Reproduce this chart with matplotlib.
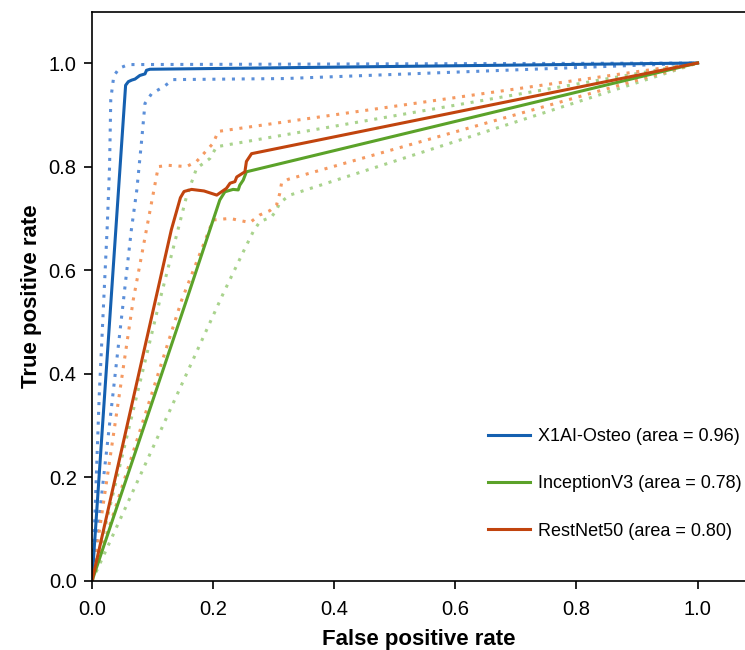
import matplotlib
matplotlib.use("Agg")
import matplotlib.pyplot as plt

plt.rcParams['font.family'] = ['Liberation Sans', 'DejaVu Sans']

# ROC curves (fpr, tpr), with upper / lower bands
x1_fpr = [0, 0.0555, 0.06, 0.0655, 0.071, 0.079, 0.0875, 0.09, 0.0957, 1.0]
x1_tpr = [0, 0.957, 0.964, 0.967, 0.969, 0.976, 0.979, 0.986, 0.988, 1.0]
x1_up_fpr = [0, 0.004, 0.012, 0.025, 0.029, 0.031, 0.036, 0.045, 0.06, 1.0]
x1_up_tpr = [0, 0.10, 0.36, 0.68, 0.80, 0.93, 0.975, 0.99, 0.997, 1.0]
x1_lo_fpr = [0, 0.065, 0.074, 0.082, 0.0875, 0.0985, 0.118, 0.134, 0.318, 1.0]
x1_lo_tpr = [0, 0.678, 0.755, 0.851, 0.922, 0.941, 0.954, 0.968, 0.970, 1.0]

inc_fpr = [0, 0.156, 0.211, 0.2195, 0.233, 0.2415, 0.244, 0.2497, 0.255, 1.0]
inc_tpr = [0, 0.542, 0.7355, 0.7515, 0.756, 0.755, 0.764, 0.774, 0.79, 1.0]
inc_up_fpr = [0, 0.112, 0.156, 0.1727, 0.1947, 0.2057, 1.0]
inc_up_tpr = [0, 0.542, 0.742, 0.7967, 0.8157, 0.8384, 1.0]
inc_lo_fpr = [0, 0.2167, 0.2525, 0.266, 0.277, 0.2965, 0.3047, 0.31, 0.3267, 1.0]
inc_lo_tpr = [0, 0.555, 0.642, 0.674, 0.6936, 0.703, 0.716, 0.730, 0.745, 1.0]

res_fpr = [0, 0.131, 0.146, 0.152, 0.1645, 0.185, 0.206, 0.222, 0.228, 0.236,
           0.239, 0.2525, 0.255, 0.2635, 1.0]
res_tpr = [0, 0.678, 0.74, 0.752, 0.756, 0.753, 0.745, 0.758, 0.768, 0.771,
           0.78, 0.79, 0.81, 0.825, 1.0]
res_up_fpr = [0, 0.068, 0.1095, 0.126, 0.156, 0.1727, 0.2, 0.2085, 1.0]
res_up_tpr = [0, 0.542, 0.80, 0.8025, 0.80, 0.81, 0.845, 0.868, 1.0]
res_lo_fpr = [0, 0.148, 0.2, 0.2277, 0.2607, 0.277, 0.2937, 0.3047, 0.310,
              0.313, 0.324, 1.0]
res_lo_tpr = [0, 0.542, 0.697, 0.70, 0.692, 0.7066, 0.715, 0.726, 0.748,
              0.768, 0.7755, 1.0]

labels = ["X1AI-Osteo (area = 0.96)", "InceptionV3 (area = 0.78)",
          "RestNet50 (area = 0.80)"]

blue, blue_lt = "#1560b0", "#5b8fd9"
green, green_lt = "#5ba229", "#a9d38d"
orange, orange_lt = "#c1440e", "#f59a62"

dots = (0, (1, 2.2))

fig = plt.figure(figsize=(7.45, 6.5), dpi=100)
ax = fig.add_axes([92 / 745, 1 - 581 / 650, 654 / 745, 569 / 650])

ax.plot(x1_up_fpr, x1_up_tpr, color=blue_lt, lw=2.2, ls=dots)
ax.plot(x1_lo_fpr, x1_lo_tpr, color=blue_lt, lw=2.2, ls=dots)
ax.plot(inc_up_fpr, inc_up_tpr, color=green_lt, lw=2.2, ls=dots)
ax.plot(inc_lo_fpr, inc_lo_tpr, color=green_lt, lw=2.2, ls=dots)
ax.plot(res_up_fpr, res_up_tpr, color=orange_lt, lw=2.2, ls=dots)
ax.plot(res_lo_fpr, res_lo_tpr, color=orange_lt, lw=2.2, ls=dots)

ax.plot(x1_fpr, x1_tpr, color=blue, lw=2.2, label=labels[0])
ax.plot(inc_fpr, inc_tpr, color=green, lw=2.2, label=labels[1])
ax.plot(res_fpr, res_tpr, color=orange, lw=2.2, label=labels[2])

ax.set_xlim(0, 1.08)
ax.set_ylim(0, 1.0985)
ax.set_xticks([0, 0.2, 0.4, 0.6, 0.8, 1.0])
ax.set_yticks([0, 0.2, 0.4, 0.6, 0.8, 1.0])
ax.xaxis.set_major_formatter(matplotlib.ticker.FormatStrFormatter("%.1f"))
ax.yaxis.set_major_formatter(matplotlib.ticker.FormatStrFormatter("%.1f"))
ax.tick_params(length=6, width=1.2, labelsize=14.5, direction="out")
ax.tick_params(axis="x", pad=8)
ax.tick_params(axis="y", pad=5)
for s in ax.spines.values():
    s.set_linewidth(1.2)

ax.set_xlabel("False positive rate", fontsize=16, fontweight="bold", labelpad=7)
ax.set_ylabel("True positive rate", fontsize=16, fontweight="bold", labelpad=5)

ax.legend(loc="upper left", bbox_to_anchor=(488 / 745, 1 - 428 / 650),
          bbox_transform=fig.transFigure, frameon=False, fontsize=13,
          borderpad=0, borderaxespad=0, handlelength=2.35, handletextpad=0.42,
          labelspacing=1.68)

plt.savefig("out.png", dpi=100)
